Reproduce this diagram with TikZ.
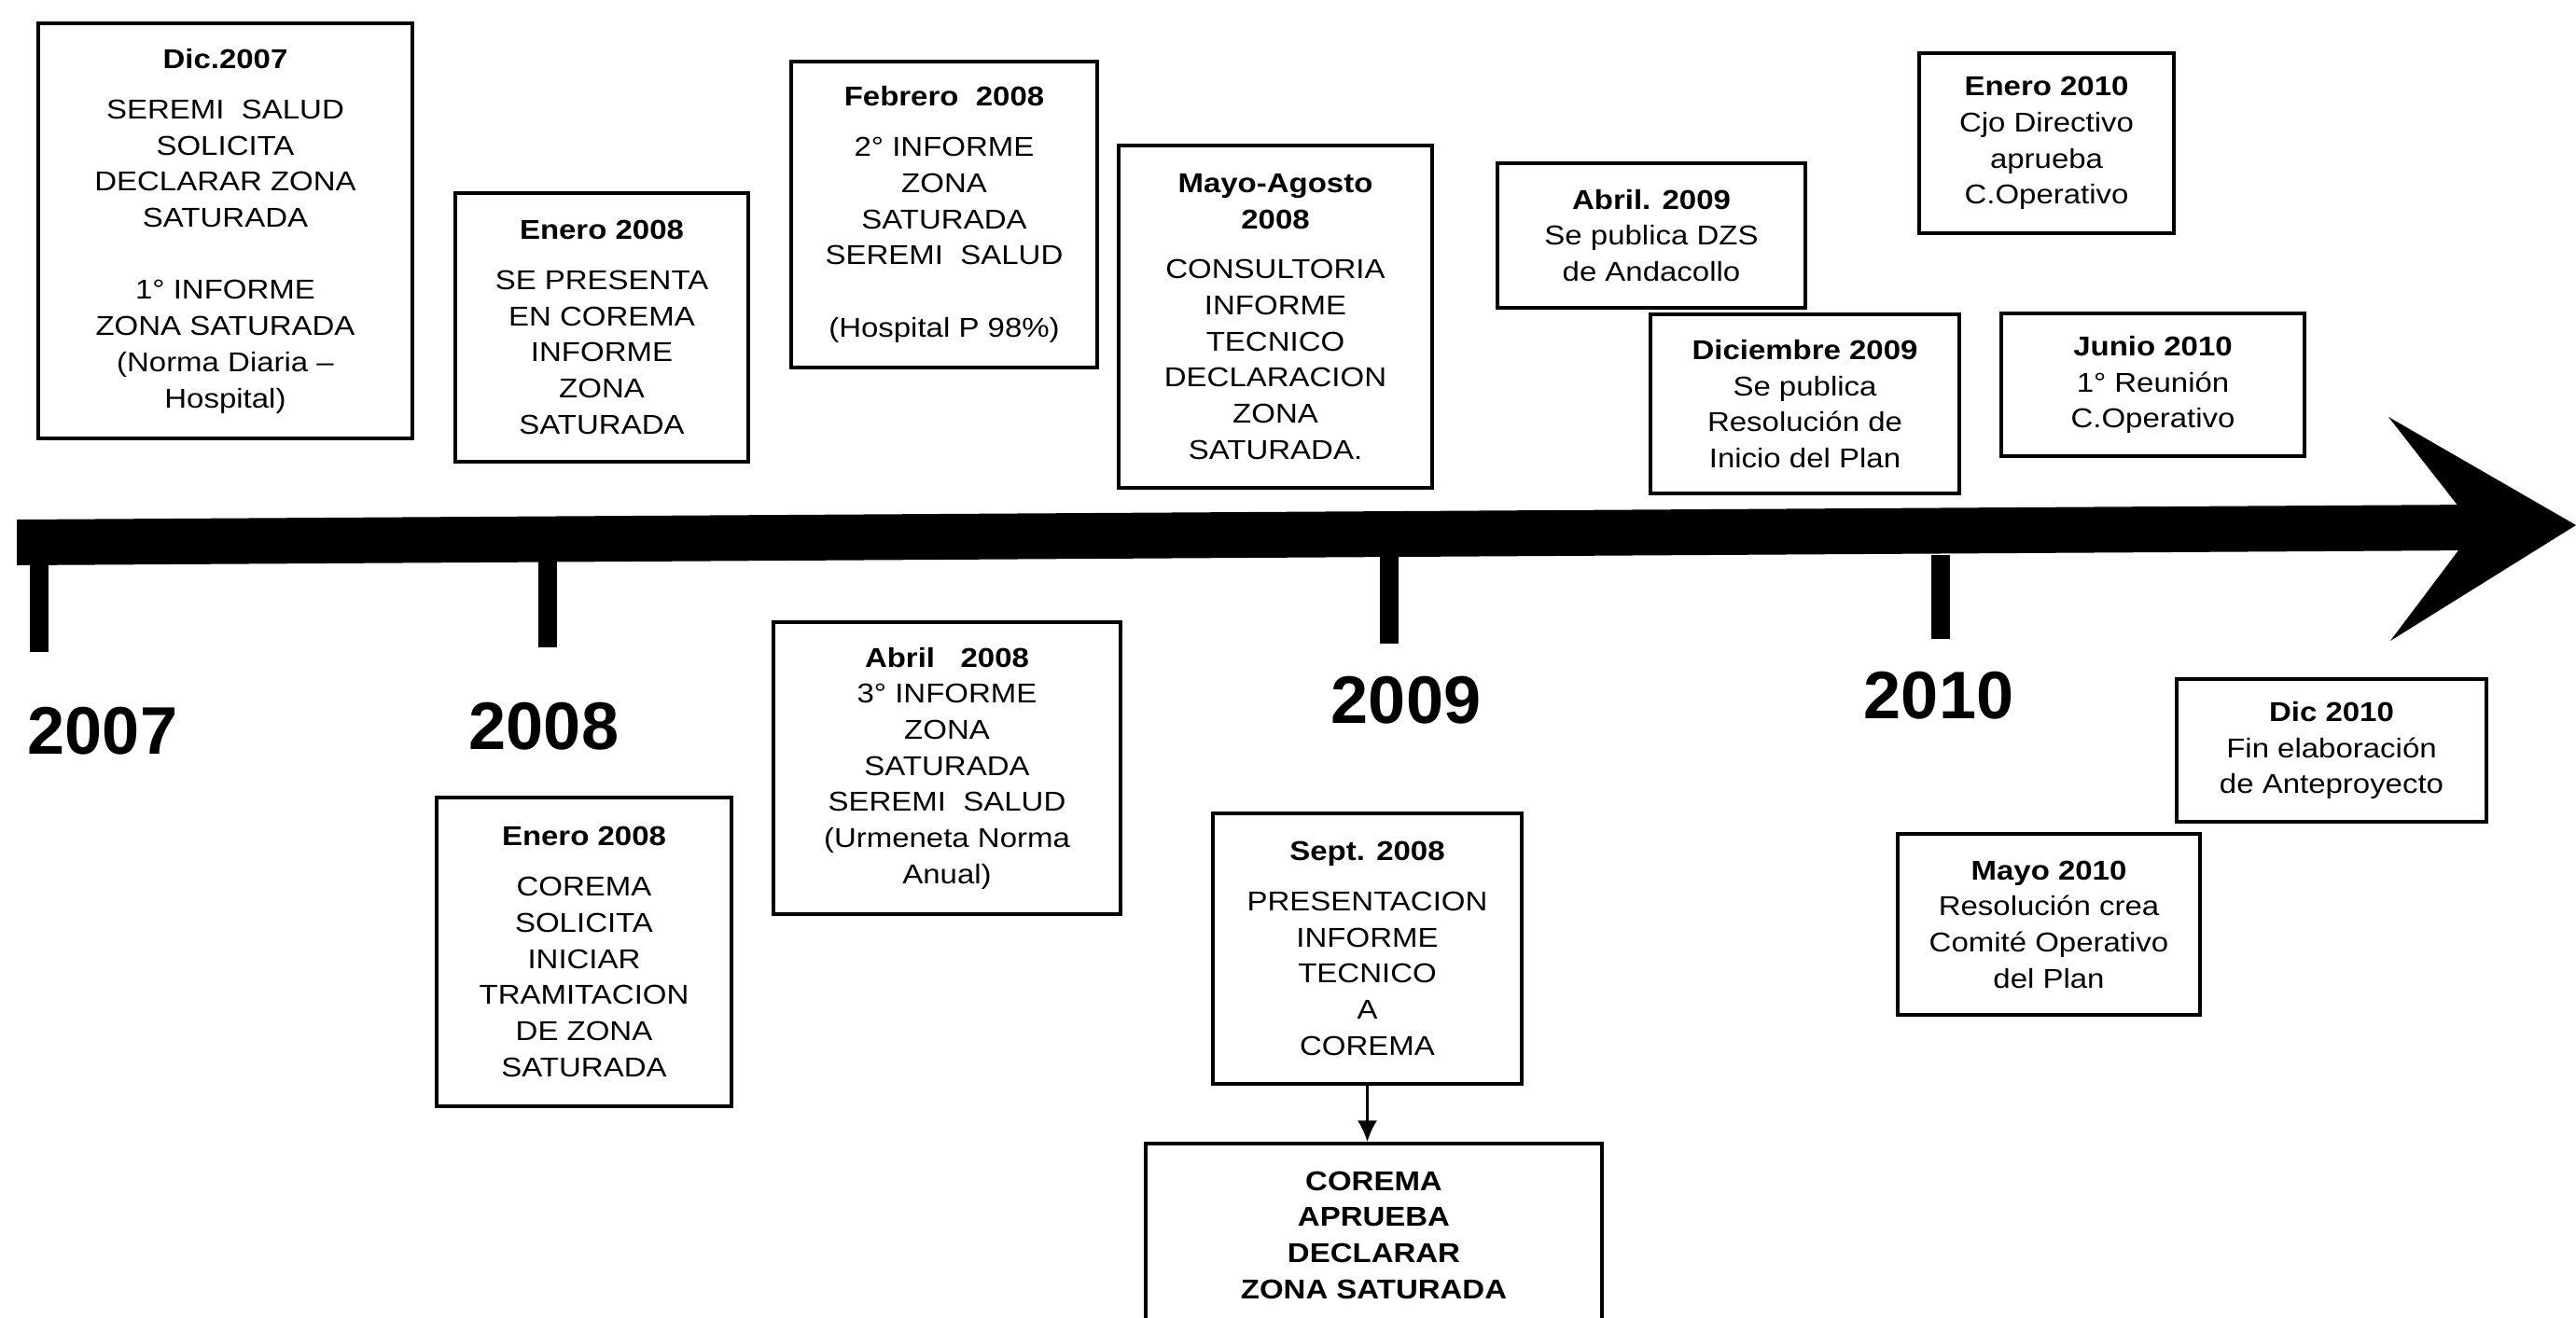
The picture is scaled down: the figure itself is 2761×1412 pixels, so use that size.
\documentclass[tikz,border=0pt]{standalone}
\usepackage{fontspec}
\setmainfont{Liberation Sans}[FakeStretch=1.13]
\newfontfamily\yearfont{Liberation Sans}
\usetikzlibrary{arrows.meta}

\tikzset{
    evbox/.style = {draw, line width=1pt, inner sep=0pt, align=center,
        font=\fontsize{8.3}{11}\selectfont},
    yearlbl/.style = {inner sep=0pt, font=\yearfont\bfseries\fontsize{20.5}{24}\selectfont}
}
\newcommand{\fecha}[1]{\textbf{#1}}

\begin{document}
\begin{tikzpicture}[x=0.01cm, y=-0.01cm]
    \clip (0,0) rectangle (2761,1412);
    \fill[white] (0,0) rectangle (2761,1412);

    % eje del tiempo
    \fill (18,557) -- (2655,541) -- (2655,590) -- (18,606) -- cycle;
    \fill (2560,447) -- (2761,563) -- (2562,687) -- (2653,566) -- cycle;
    \foreach \x/\b/\yr/\lx/\ly in {42/699/2007/110/784, 587/694/2008/583/779,
        1489/690/2009/1507/751, 2080/685/2010/2078/746}
    {
        \fill (\x-10,595) rectangle (\x+10,\b);
        \node[yearlbl] (y\yr) at (\lx,\ly) {\yr};
    }

    % sobre el eje
    \node[evbox, minimum width=4.01cm, minimum height=4.45cm] (dic07) at (241.5,247.5)
        {\fecha{Dic.2007}\\[4.5pt] SEREMI\ \ SALUD\\ SOLICITA\\ DECLARAR ZONA\\ SATURADA\\[11pt]
         1° INFORME\\ ZONA SATURADA\\ (Norma Diaria –\\ Hospital)};
    \node[evbox, minimum width=3.14cm, minimum height=2.88cm] (ene08a) at (645,351)
        {\fecha{Enero 2008}\\[4.3pt] SE PRESENTA\\ EN COREMA\\ INFORME\\ ZONA\\ SATURADA};
    \node[evbox, minimum width=3.28cm, minimum height=3.28cm] (feb08) at (1012,230)
        {\fecha{Febrero\ \ 2008}\\[4.3pt] 2° INFORME\\ ZONA\\ SATURADA\\ SEREMI\ \ SALUD\\[11pt]
         (Hospital P 98\%)};
    \node[evbox, minimum width=3.36cm, minimum height=3.67cm] (mayago08) at (1367,339.5)
        {\fecha{Mayo-Agosto}\\ \fecha{2008}\\[4.3pt] CONSULTORIA\\ INFORME\\ TECNICO\\
         DECLARACION\\ ZONA\\ SATURADA.};
    \node[evbox, minimum width=3.30cm, minimum height=1.55cm] (abr09) at (1770,252.5)
        {\fecha{Abril. 2009}\\ Se publica DZS\\ de Andacollo};
    \node[evbox, minimum width=2.73cm, minimum height=1.93cm] (ene10) at (2193.5,153.5)
        {\fecha{Enero 2010}\\ Cjo Directivo\\ aprueba\\ C.Operativo};
    \node[evbox, minimum width=3.31cm, minimum height=1.92cm] (dic09) at (1934.5,433)
        {\fecha{Diciembre 2009}\\ Se publica\\ Resolución de\\ Inicio del Plan};
    \node[evbox, minimum width=3.25cm, minimum height=1.53cm] (jun10) at (2307.5,412.5)
        {\fecha{Junio 2010}\\ 1° Reunión\\ C.Operativo};

    % bajo el eje
    \node[evbox, minimum width=3.16cm, minimum height=3.31cm] (ene08b) at (626,1020.5)
        {\fecha{Enero 2008}\\[4.3pt] COREMA\\ SOLICITA\\ INICIAR\\ TRAMITACION\\ DE ZONA\\ SATURADA};
    \node[evbox, minimum width=3.72cm, minimum height=3.13cm] (abr08) at (1015,823.5)
        {\fecha{Abril\ \ \ 2008}\\ 3° INFORME\\ ZONA\\ SATURADA\\ SEREMI\ \ SALUD\\
         (Urmeneta Norma\\ Anual)};
    \node[evbox, minimum width=3.31cm, minimum height=2.90cm] (sep08) at (1465.5,1017)
        {\fecha{Sept. 2008}\\[4.3pt] PRESENTACION\\ INFORME\\ TECNICO\\ A\\ COREMA};
    \node[evbox, minimum width=4.89cm, minimum height=1.96cm, font=\bfseries\fontsize{8.3}{11}\selectfont]
        (corema) at (1472.5,1324) {COREMA\\ APRUEBA\\ DECLARAR\\ ZONA SATURADA};
    \node[evbox, minimum width=3.32cm, minimum height=1.53cm] (dic10) at (2499,804.5)
        {\fecha{Dic 2010}\\ Fin elaboración\\ de Anteproyecto};
    \node[evbox, minimum width=3.24cm, minimum height=1.94cm] (may10) at (2196,991)
        {\fecha{Mayo 2010}\\ Resolución crea\\ Comité Operativo\\ del Plan};

    \draw[line width=0.75pt, -{Latex[length=6.5pt, width=6pt]}] (sep08.south) -- (sep08.south |- corema.north);
\end{tikzpicture}
\end{document}
